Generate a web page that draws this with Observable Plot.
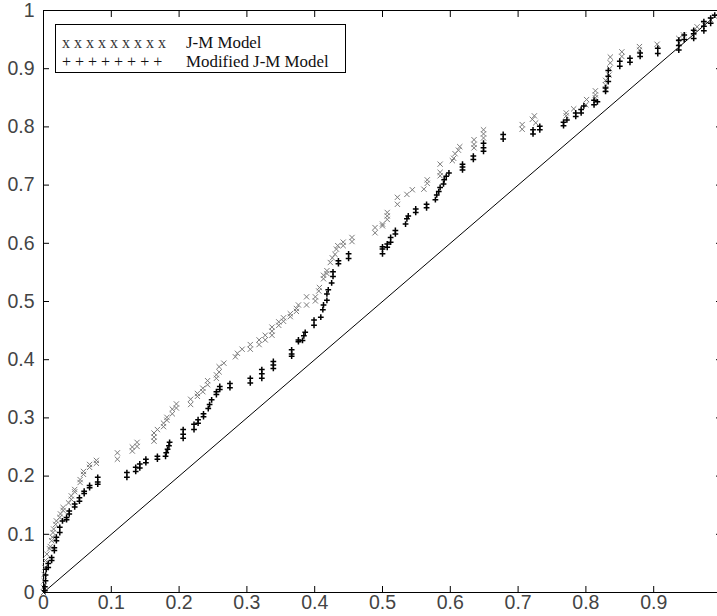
<!DOCTYPE html>
<html><head><meta charset="utf-8">
<script src="https://cdn.jsdelivr.net/npm/d3@7"></script>
<script src="https://cdn.jsdelivr.net/npm/@observablehq/plot@0.6"></script>
<style>
html,body{margin:0;padding:0;background:#fff;overflow:hidden;}
#wrap{position:relative;width:717px;height:616px;overflow:hidden;}
#legend{position:absolute;left:55px;top:24px;width:289px;height:47px;border:1px solid #000;background:#fff;font-family:"Liberation Serif","Times New Roman",serif;font-size:16.9px;color:#111;}
#legend div{position:absolute;white-space:pre;line-height:18px;}
#legend .sym{font-size:16px;}
</style></head><body><div id="wrap"></div>
<script>
// J-M Model (x markers)
const jmX = [0.000,0.000,0.001,0.001,0.002,0.003,0.005,0.009,0.010,0.012,0.013,0.014,0.015,0.018,0.019,0.024,0.025,0.029,0.029,0.037,0.041,0.041,0.046,0.046,0.054,0.054,0.059,0.059,0.068,0.068,0.078,0.078,
0.109,0.109,0.131,0.131,0.138,0.138,0.163,0.163,0.163,0.168,0.177,0.177,0.182,0.182,0.190,0.190,0.196,0.196,0.217,0.217,0.227,0.227,0.235,0.235,0.242,0.242,0.255,0.255,0.259,0.259,0.266,0.283,0.286,0.293,0.305,0.305,0.318,0.318,0.327,0.327,0.337,0.337,0.337,0.347,0.347,0.354,0.354,0.364,0.364,0.373,0.373,0.376,0.388,0.388,0.401,0.401,0.406,0.407,0.413,0.413,0.418,0.418,0.423,0.426,0.430,0.432,0.434,0.442,0.442,0.455,0.455,0.489,0.489,0.500,0.500,0.507,0.507,0.507,0.522,0.522,0.536,0.544,0.561,0.566,0.566,0.585,0.585,0.585,0.603,0.605,0.607,0.612,0.614,0.635,0.635,0.635,0.649,0.649,0.649,0.706,0.706,0.721,0.724,0.726,0.771,0.771,0.782,0.800,0.801,0.814,0.814,0.814,0.829,0.829,0.829,0.834,0.835,0.836,0.836,0.853,0.853,0.879,0.879,0.905,0.937,0.937,0.944,0.959,0.964,0.974,0.984,0.990];
const jmY = [0.000,0.009,0.020,0.031,0.043,0.055,0.066,0.075,0.079,0.089,0.095,0.103,0.109,0.117,0.123,0.129,0.135,0.141,0.146,0.154,0.160,0.166,0.173,0.177,0.189,0.194,0.203,0.208,0.215,0.220,0.222,0.227,
0.229,0.240,0.243,0.250,0.251,0.258,0.260,0.267,0.274,0.280,0.285,0.291,0.296,0.301,0.307,0.315,0.317,0.324,0.323,0.332,0.337,0.342,0.345,0.351,0.357,0.364,0.368,0.374,0.379,0.388,0.394,0.405,0.411,0.418,0.418,0.426,0.426,0.434,0.434,0.442,0.442,0.449,0.456,0.459,0.465,0.466,0.472,0.474,0.479,0.483,0.488,0.494,0.494,0.508,0.501,0.508,0.518,0.524,0.539,0.545,0.548,0.553,0.567,0.575,0.581,0.590,0.596,0.596,0.602,0.603,0.610,0.618,0.627,0.630,0.633,0.641,0.647,0.653,0.667,0.679,0.684,0.692,0.693,0.703,0.709,0.716,0.722,0.736,0.742,0.746,0.754,0.760,0.766,0.764,0.770,0.778,0.781,0.788,0.795,0.796,0.804,0.813,0.819,0.807,0.819,0.824,0.831,0.838,0.847,0.850,0.855,0.862,0.865,0.872,0.880,0.889,0.900,0.910,0.920,0.921,0.929,0.932,0.938,0.942,0.944,0.952,0.958,0.962,0.972,0.976,0.984,0.990];

// Modified J-M Model (+ markers)
const modX = [0.002,0.002,0.003,0.003,0.004,0.007,0.007,0.012,0.012,0.016,0.016,0.019,0.019,0.024,0.024,0.028,0.034,0.034,0.038,0.038,0.046,0.046,0.053,0.053,0.060,0.060,0.068,0.068,0.080,0.080,0.080,
0.123,0.123,0.136,0.136,0.142,0.142,0.151,0.151,0.168,0.168,0.180,0.181,0.183,0.185,0.186,0.206,0.206,0.206,0.222,0.222,0.228,0.228,0.236,0.236,0.243,0.245,0.248,0.255,0.255,0.260,0.260,0.275,0.275,0.305,0.305,0.322,0.322,0.322,0.339,0.339,0.339,0.366,0.366,0.366,0.376,0.376,0.382,0.384,0.386,0.399,0.399,0.409,0.412,0.413,0.418,0.418,0.420,0.425,0.427,0.427,0.435,0.435,0.450,0.450,0.500,0.500,0.500,0.507,0.507,0.512,0.512,0.519,0.519,0.534,0.536,0.538,0.549,0.549,0.565,0.565,0.578,0.580,0.583,0.585,0.590,0.591,0.594,0.598,0.618,0.618,0.618,0.634,0.634,0.649,0.649,0.649,0.678,0.678,0.722,0.722,0.732,0.732,0.767,0.767,0.772,0.785,0.785,0.793,0.793,0.797,0.812,0.812,0.817,0.829,0.829,0.833,0.833,0.833,0.850,0.850,0.865,0.865,0.880,0.880,0.906,0.906,0.937,0.937,0.937,0.945,0.945,0.959,0.959,0.959,0.974,0.974,0.974,0.984,0.984,0.990];
const modY = [0.003,0.010,0.020,0.030,0.040,0.043,0.050,0.055,0.060,0.072,0.077,0.089,0.095,0.103,0.112,0.123,0.125,0.129,0.135,0.140,0.147,0.152,0.157,0.163,0.170,0.174,0.180,0.184,0.186,0.190,0.198,
0.198,0.206,0.208,0.215,0.214,0.221,0.223,0.229,0.229,0.234,0.234,0.240,0.246,0.252,0.258,0.265,0.272,0.280,0.280,0.289,0.291,0.297,0.302,0.307,0.316,0.323,0.331,0.340,0.345,0.349,0.354,0.352,0.359,0.360,0.368,0.368,0.376,0.383,0.385,0.391,0.397,0.406,0.410,0.417,0.431,0.434,0.433,0.441,0.447,0.459,0.468,0.473,0.486,0.494,0.502,0.513,0.520,0.532,0.543,0.551,0.565,0.570,0.574,0.582,0.582,0.590,0.594,0.593,0.599,0.602,0.610,0.616,0.622,0.633,0.642,0.647,0.653,0.659,0.661,0.667,0.675,0.683,0.689,0.696,0.702,0.709,0.715,0.721,0.726,0.731,0.736,0.744,0.750,0.758,0.764,0.772,0.779,0.787,0.788,0.795,0.795,0.801,0.802,0.808,0.812,0.818,0.824,0.824,0.830,0.836,0.838,0.846,0.843,0.861,0.867,0.878,0.887,0.897,0.904,0.913,0.911,0.918,0.921,0.927,0.926,0.935,0.932,0.940,0.949,0.950,0.958,0.952,0.960,0.966,0.965,0.973,0.981,0.978,0.987,0.992];

// reference diagonal y = x
const diagonal = [0, 1];

// tick labels
const xTickValues = [0, 0.1, 0.2, 0.3, 0.4, 0.5, 0.6, 0.7, 0.8, 0.9];
const yTickValues = [0, 0.1, 0.2, 0.3, 0.4, 0.5, 0.6, 0.7, 0.8, 0.9, 1];
const legendLabels = ["J-M Model", "Modified J-M Model"];
const legendSymbols = ["x x x x x x x x x", "+ + + + + + + +"];

const jm = jmX.map((x, i) => ({x, y: jmY[i]}));
const mod = modX.map((x, i) => ({x, y: modY[i]}));

const chart = Plot.plot({
  width: 717, height: 616,
  marginLeft: 43, marginRight: -4, marginTop: 10, marginBottom: 24,
  x: {domain: [0, 1]},
  y: {domain: [0, 1]},
  style: {fontFamily: "'Liberation Sans', Arial, sans-serif", background: "white", color: "black", overflow: "visible"},
  marks: [
    Plot.frame({stroke: "black"}),
    Plot.line(diagonal, {x: d => d, y: d => d, stroke: "black", strokeWidth: 1}),
    Plot.dot(jm, {x: "x", y: "y", symbol: "times", r: 2.5, stroke: "#7a7a7a", strokeWidth: 1}),
    Plot.dot(mod, {x: "x", y: "y", symbol: "plus", r: 2, stroke: "#000", strokeWidth: 1.5}),
    Plot.axisX(xTickValues, {anchor: "bottom", tickSize: -6, tickPadding: 9, tickFormat: d3.format(""), label: null, fill: "#444"}),
    Plot.axisX(yTickValues, {anchor: "top", tickSize: -6, tickFormat: () => "", label: null}),
    Plot.axisY(yTickValues, {anchor: "left", tickSize: -6, tickPadding: 15, tickFormat: d3.format(""), label: null, fill: "#444"}),
    Plot.axisY(yTickValues, {anchor: "right", tickSize: -6, tickFormat: () => "", label: null})
  ]
});
// enlarge tick label text (MATLAB-style large labels)
d3.select(chart).selectAll("text")
  .attr("font-size", 19.5)
  .style("font-size", "19.5px")
  .style("font-family", "'Liberation Sans', Arial, sans-serif");
d3.select(chart).selectAll("g").attr("font-size", null);
const wrap = document.getElementById("wrap");
wrap.appendChild(chart);

const legend = document.createElement("div");
legend.id = "legend";
legendLabels.forEach((lab, i) => {
  const s = document.createElement("div");
  s.className = "sym";
  s.textContent = legendSymbols[i];
  s.style.left = "6px"; s.style.top = (9 + i * 19) + "px";
  s.style.color = i === 0 ? "#333" : "#111";
  const t = document.createElement("div");
  t.textContent = lab;
  t.style.left = "130px"; t.style.top = (9 + i * 19) + "px";
  legend.appendChild(s); legend.appendChild(t);
});
wrap.appendChild(legend);
</script>
</body></html>
